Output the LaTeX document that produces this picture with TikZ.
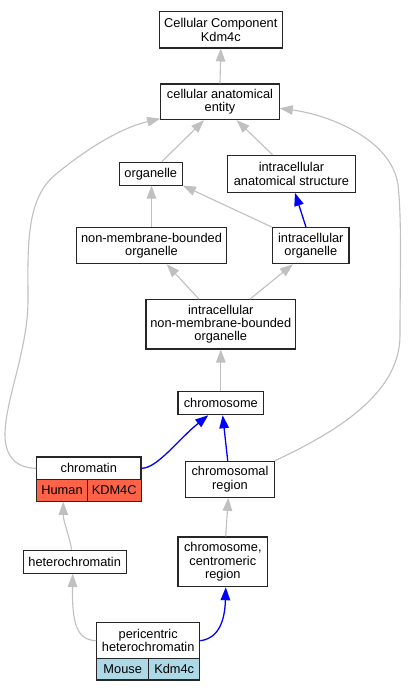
\documentclass[tikz,border=0pt]{standalone}
\usepackage{fontspec}
\setmainfont{Liberation Sans}
\usetikzlibrary{arrows.meta,calc}
\definecolor{edgegray}{HTML}{C0C0C0}
\definecolor{edgeblue}{HTML}{0000FF}
\definecolor{humanred}{HTML}{FF6347}
\definecolor{mouseblue}{HTML}{ADD8E6}
\tikzset{
  box/.style={draw=black!85, line width=1.1pt, fill=white, inner sep=0pt, align=center,
    font=\fontsize{12.8}{13.3}\selectfont},
  gedge/.style={draw=edgegray, line width=1.1pt, -{Triangle[length=13pt,width=9.5pt,fill=edgegray]}},
  bedge/.style={draw=edgeblue, line width=1.3pt, -{Triangle[length=13pt,width=9.5pt,fill=edgeblue]}},
}
\begin{document}
\begin{tikzpicture}[x=1pt,y=-1pt]
\fill[white] (0,0) rectangle (410,691);
\useasboundingbox (0,0) rectangle (410,691);
% nodes
\node[box, minimum width=123pt, minimum height=36.3pt] (cc) at (220.8,29.8) {Cellular Component\\Kdm4c};
\node[box, minimum width=118.6pt, minimum height=35.7pt] (cae) at (220,101.8) {cellular anatomical\\entity};
\node[box, minimum width=63pt, minimum height=22.7pt] (org) at (150.8,173.7) {organelle};
\node[box, minimum width=128.4pt, minimum height=37pt] (ias) at (291.5,173.8) {intracellular\\anatomical structure};
\node[box, minimum width=149.6pt, minimum height=36pt] (nmbo) at (151.5,245.7) {non-membrane-bounded\\organelle};
\node[box, minimum width=76.3pt, minimum height=36pt] (io) at (310.8,245.7) {intracellular\\organelle};
\node[box, minimum width=149.7pt, minimum height=49.3pt] (inmbo) at (220.8,324.3) {intracellular\\non-membrane-bounded\\organelle};
\node[box, minimum width=85.7pt, minimum height=23pt] (chr) at (220.8,403.2) {chromosome};
\node[box, minimum width=104.3pt, minimum height=22.7pt] (ctop) at (88.8,468.3) {chromatin};
\node[box, fill=humanred, minimum width=50.6pt, minimum height=21.6pt] (chuman) at (62,490.5) {Human};
\node[box, fill=humanred, minimum width=53.7pt, minimum height=21.6pt] (ckdm) at (114.2,490.5) {KDM4C};
\node[box, minimum width=88.6pt, minimum height=36pt] (cr) at (230,479.3) {chromosomal\\region};
\node[box, minimum width=103.3pt, minimum height=23pt] (het) at (74.7,561.8) {heterochromatin};
\node[box, minimum width=89.7pt, minimum height=49.7pt] (ccr) at (222.8,561.8) {chromosome,\\centromeric\\region};
\node[box, minimum width=103pt, minimum height=36pt] (ptop) at (148.2,640.7) {pericentric\\heterochromatin};
\node[box, fill=mouseblue, minimum width=52pt, minimum height=21.3pt] (pmouse) at (122.7,669.3) {Mouse};
\node[box, fill=mouseblue, minimum width=51pt, minimum height=21.3pt] (pkdm) at (174.2,669.3) {Kdm4c};
% edges
\draw[gedge] (cae.north) -- (cc.south);
\draw[gedge] ([xshift=11pt]org.north) -- ([xshift=-16pt]cae.south);
\draw[gedge] ([xshift=-19pt]ias.north) -- ([xshift=16.7pt]cae.south);
\draw[gedge] (io.north west) -- (org.south east);
\draw[bedge] ([xshift=-4.8pt]io.north) -- ([xshift=3.5pt]ias.south);
\draw[gedge] (nmbo.north) -- (nmbo.north |- org.south);
\draw[gedge] ([xshift=-21.8pt]inmbo.north) -- ([xshift=15.2pt]nmbo.south);
\draw[gedge] ([xshift=29.2pt]inmbo.north) -- ([xshift=-18pt]io.south);
\draw[gedge] (chr.north) -- (chr.north |- inmbo.south);
\draw[bedge] (ctop.east) .. controls +(16,0) and +(-30,24) .. ([xshift=-12.5pt]chr.south);
\draw[bedge] ([xshift=-2.3pt]cr.north) -- ([xshift=1.9pt]chr.south);
\draw[gedge] (ctop.west) .. controls (15,468) and (5,455) .. (5,435)
  .. controls (5,400) and (28,350) .. (28,300)
  .. controls (28,250) and (25,200) .. (55,175)
  .. controls (85,150) and (120,128) .. ([yshift=1.5pt]cae.south west);
\draw[gedge] (cr.north east) .. controls (345,428) and (400,390) .. (400,335)
  .. controls (400,280) and (402,220) .. (398,185)
  .. controls (392,140) and (330,115) .. ([yshift=-6.5pt]cae.east);
\draw[gedge] ([xshift=-3pt]het.north) .. controls +(-4,-20) and +(0,20) .. ([xshift=1.3pt]chuman.south);
\draw[gedge] ([xshift=2.9pt]ccr.north) -- ([xshift=-1.7pt]cr.south);
\draw[gedge] (ptop.west) .. controls (76,640) and (72,622) .. ([xshift=-2pt]het.south);
\draw[bedge] (ptop.east) .. controls (222,638) and (225,614) .. ([xshift=3pt]ccr.south);
\end{tikzpicture}
\end{document}
